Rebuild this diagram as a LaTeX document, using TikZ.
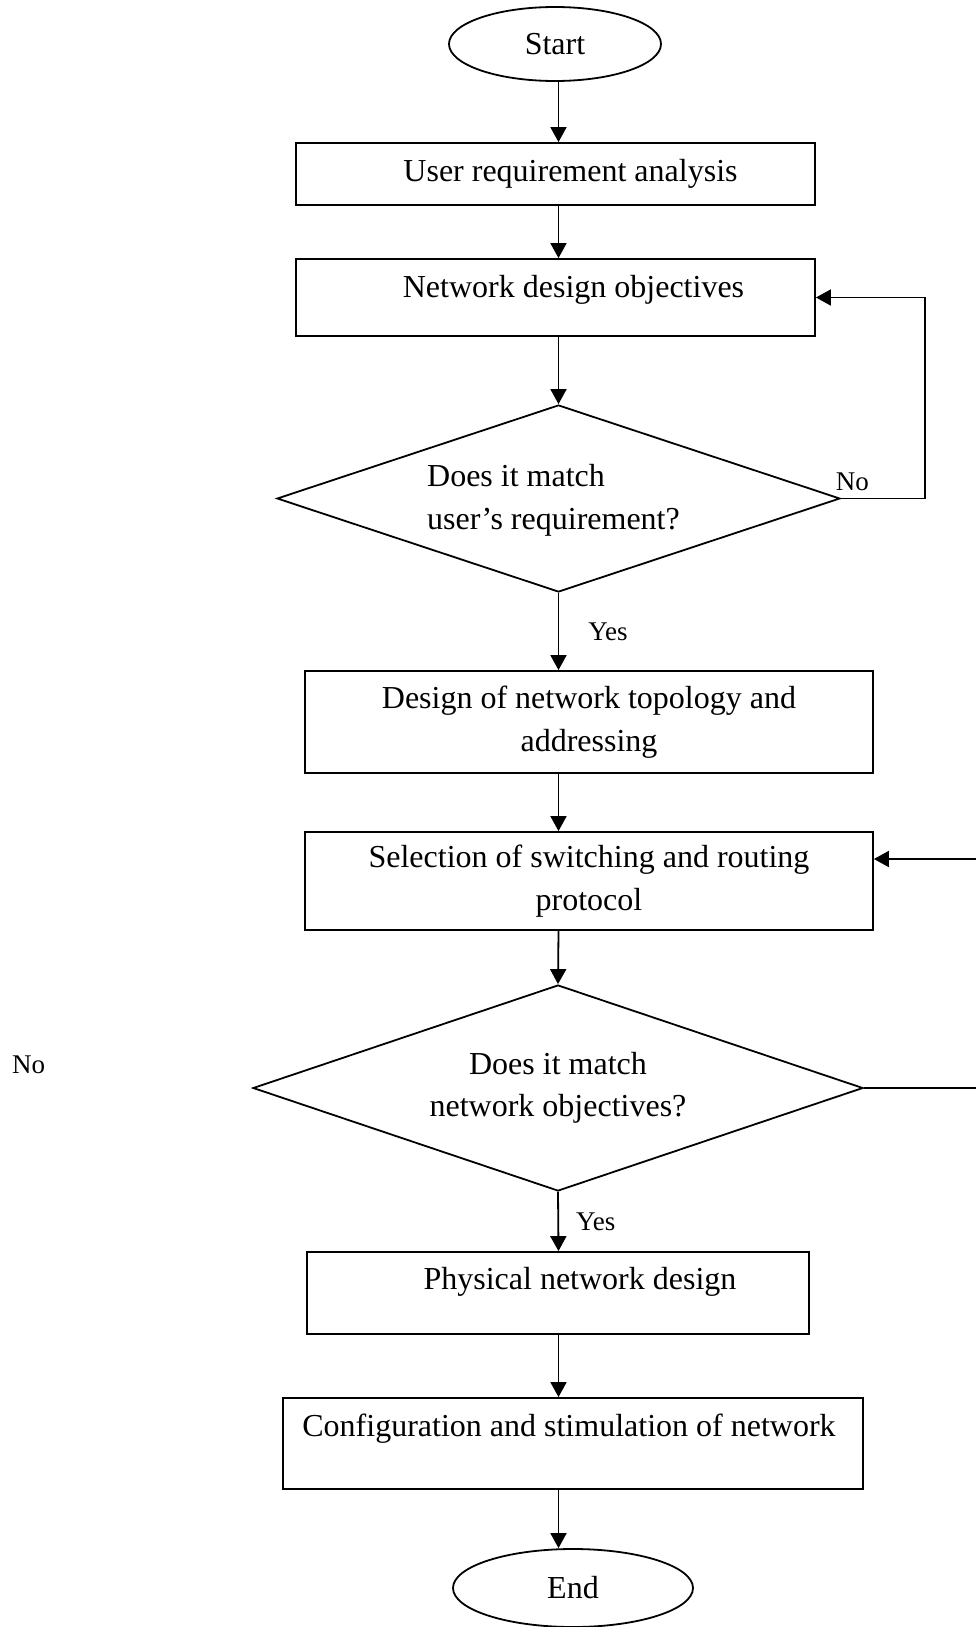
\documentclass[tikz,border=0pt]{standalone}
\usepackage{fontspec}
\setmainfont{Liberation Serif}
\usetikzlibrary{shapes.geometric}
\usetikzlibrary{arrows.meta}
\usetikzlibrary{calc}

\tikzset{
  block/.style={draw, line width=1.8pt, inner sep=0pt},
  blocktext/.style={inner sep=0pt, align=center, font=\fontsize{32}{42.5}\selectfont},
  decision/.style={draw, diamond, aspect=3, line width=1.8pt, inner sep=0pt, font=\fontsize{32}{42.5}\selectfont},
  terminal/.style={draw, ellipse, line width=1.8pt, inner sep=0pt, font=\fontsize{32}{42.5}\selectfont},
  flow/.style={line width=1.8pt, -{Triangle[length=15pt,width=16pt]}},
  link/.style={line width=1.8pt},
  lbl/.style={inner sep=0pt, font=\fontsize{27}{32}\selectfont}
}

\begin{document}
\begin{tikzpicture}[x=1pt,y=-1pt]
  \useasboundingbox (0,0) rectangle (976,1627);
  \newcommand\flowblock[6]{\node[block, minimum width=#3pt, minimum height=#4pt] (#1) at (#2) {};\node[blocktext] (#1text) at ($(#1)+(#5)$) {#6};}

% terminals
  \node[terminal, minimum width=212pt, minimum height=74pt] (start) at (555,44) {Start};
  \node[terminal, minimum width=240pt, minimum height=78pt] (finish) at (573,1588) {End};

% process boxes
  \flowblock{req}{555.5,174}{519}{62}{15,0}{User requirement analysis}
  \flowblock{obj}{555.5,297.5}{519}{77}{18,-8}{Network design objectives}
  \flowblock{topo}{589,722}{568}{102}{0,0}{Design of network topology and\\addressing}
  \flowblock{sel}{589,881}{568}{98}{0,0}{Selection of switching and routing\\protocol}
  \flowblock{phys}{558,1293}{502}{82}{22,-11}{Physical network design}
  \flowblock{conf}{573,1443.5}{580}{91}{-4,-15}{Configuration and stimulation of network}

% decisions
  \node[decision, minimum width=563pt, minimum height=187pt] (dec1) at (558.5,498.5) {};
  \node[blocktext, align=left] (dec1text) at ($(dec1)+(-5,2)$) {Does it match\\user’s requirement?};
  \node[decision, minimum width=610pt, minimum height=206pt, align=center] (dec2) at (558,1088) {Does it match\\network objectives?};

  \node[lbl, anchor=base west] (noleft) at (12,1073) {No};
  \coordinate (edgelow) at (976,1088);
  \coordinate (edgehigh) at (976,859);

% main flow
  \draw[flow] (start.south -| dec1) -- (req.north -| dec1);
  \draw[flow] (req.south -| dec1) -- (obj.north -| dec1);
  \draw[flow] (obj.south -| dec1) -- (dec1.north);
  \draw[flow] (dec1.south) -- node[lbl, right, xshift=29pt] {Yes} (topo.north -| dec1);
  \draw[flow] (topo.south -| dec1) -- (sel.north -| dec1);
  \draw[flow] (sel.south -| dec1) -- (dec2.north);
  \draw[flow] (dec2.south) -- node[lbl, right, xshift=17pt] {Yes} (phys.north -| dec1);
  \draw[flow] (phys.south -| dec1) -- (conf.north -| dec1);
  \draw[flow] (conf.south -| dec1) -- (finish.north -| dec1);

% loops back
  \draw[flow] (dec1.east) node[lbl, anchor=south west, xshift=-6pt, yshift=7pt] {No} -- ++(84,0) |- (obj.east);
  \draw[link] (dec2.east) -- (edgelow);
  \draw[flow] (edgehigh) -- (edgehigh -| sel.east);

\end{tikzpicture}
\end{document}
